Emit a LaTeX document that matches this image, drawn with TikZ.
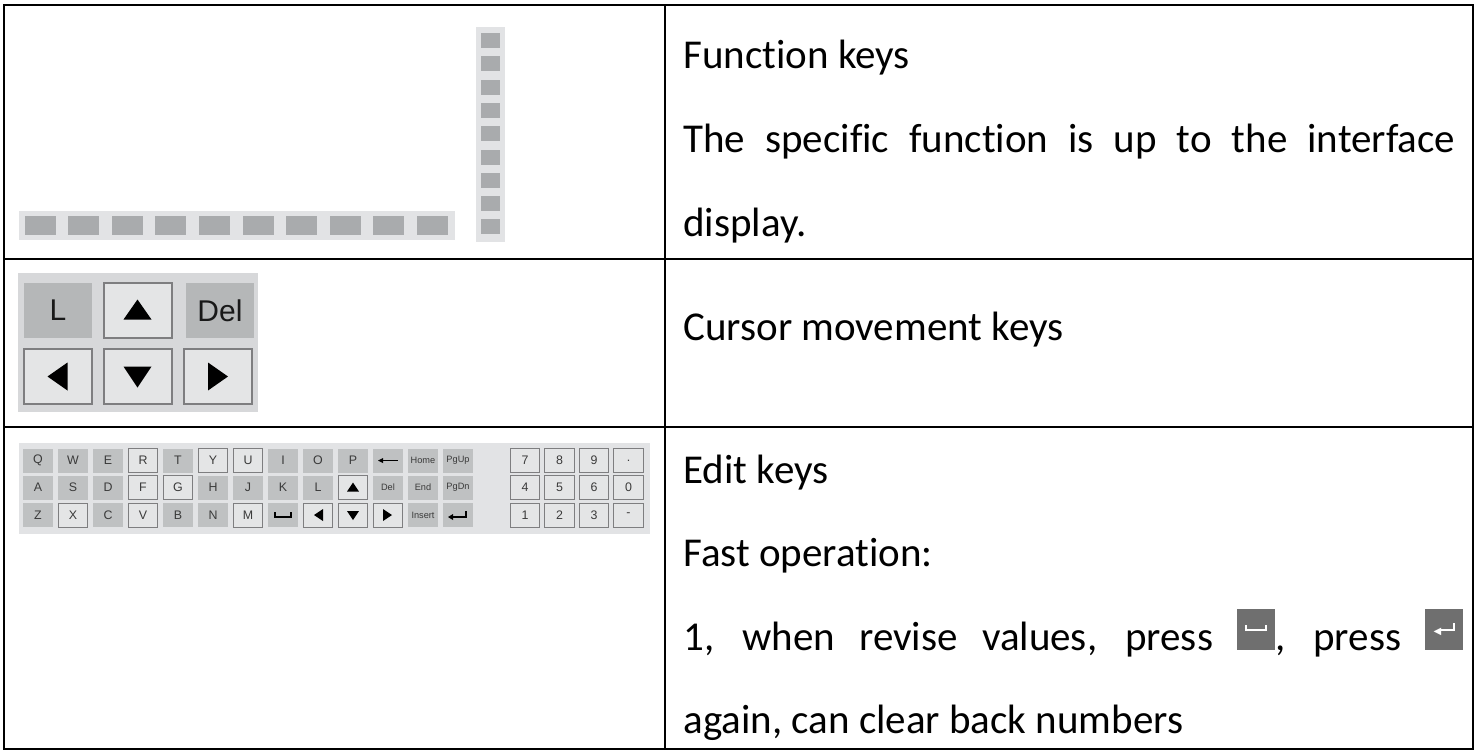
\documentclass[tikz,border=0pt]{standalone}
\usepackage{fontspec}
\setmainfont{Carlito}[Ligatures=NoCommon]
\newfontfamily\keyfont{Liberation Sans}
\newfontfamily\symfont{DejaVu Sans}
\usetikzlibrary{positioning}

\definecolor{panelbg}{HTML}{E2E3E5}
\definecolor{fkeygray}{HTML}{A9ABAD}
\definecolor{keygray}{HTML}{BFC1C2}
\definecolor{keylight}{HTML}{E4E5E6}
\definecolor{keyedge}{HTML}{7E7E80}
\definecolor{keyink}{HTML}{3A3A3A}
\definecolor{icongray}{HTML}{6F6F6F}

\newcommand\iconbox[1]{{\setlength{\fboxsep}{0pt}\colorbox{icongray}{\parbox[b][20.5pt][c]{19pt}{\centering\color{white}#1}}}}
\newcommand\spacesym{\raisebox{1.5pt}{\rule{0.9pt}{3pt}\rule{9pt}{0.9pt}\rule{0.9pt}{3pt}}}
\newcommand\returnsym{\raisebox{1pt}{{\symfont\fontsize{5pt}{5pt}\selectfont ◀}\kern-0.9pt\rule[1.5pt]{7pt}{0.9pt}\rule[1.5pt]{0.9pt}{4pt}}}
\newcommand\kbsmall{\fontsize{4.6pt}{5pt}\selectfont}

\begin{document}
\begin{tikzpicture}[x=0.5pt, y=-0.5pt,
    tableline/.style={line width=1.3pt},
    txt/.style={inner sep=0pt, anchor=base west, font=\fontsize{20.5pt}{24pt}\selectfont},
    fkey/.style={fill=fkeygray, inner sep=0pt, minimum width=15.5pt, minimum height=9.5pt},
    fkeyv/.style={fkey, minimum width=9.5pt, minimum height=7.5pt},
    ckey/.style={inner sep=0pt, minimum width=34pt, minimum height=27.5pt, font=\keyfont\fontsize{15pt}{15pt}\selectfont, text=black!90},
    cgray/.style={ckey, fill=keygray!95!black},
    clight/.style={ckey, fill=keylight, draw=keyedge, line width=1pt},
    kb/.style={inner sep=0pt, minimum width=14.7pt, minimum height=12pt, font=\keyfont\fontsize{6.2pt}{7pt}\selectfont, text=keyink},
    kbgray/.style={kb, fill=keygray},
    kblight/.style={kb, fill=keylight, draw=keyedge, line width=0.5pt}]
\useasboundingbox (0,0) rectangle (1477,751);

\begin{scope}[shift={(0,0)}]
    \fill[panelbg] (19,211) rectangle (455,240);
    \foreach \i in {0,...,9}
        \node[fkey] (fh\i) at (40+43.6*\i, 225.5) {};
    \fill[panelbg] (476,27) rectangle (505,242);
    \foreach \j in {0,...,8}
        \node[fkeyv] (fv\j) at (490.5, 40.5+23.3*\j) {};
\end{scope}

\begin{scope}[shift={(0,0)}]
    \fill[panelbg!95!black] (18,273) rectangle (258,412);
    \node[cgray] (cl) at (58,310.5) {L};
    \node[clight] (cup) at (137.5,310.5) {};
    \node[cgray] (cdel) at (220,310.5) {Del};
    \node[clight] (cleft) at (57.5,376.5) {};
    \node[clight] (cdown) at (137.5,376.5) {};
    \node[clight] (cright) at (218,376.5) {};
    \fill[shift={(cup.center)}] (-14,9) -- (14,9) -- (0,-11) -- cycle;
    \fill[shift={(cdown.center)}] (-14,-10) -- (14,-10) -- (0,11) -- cycle;
    \fill[shift={(cleft.center)}] (-10,0) -- (10,-14) -- (10,14) -- cycle;
    \fill[shift={(cright.center)}] (10,0) -- (-10,-14) -- (-10,14) -- cycle;
\end{scope}

\begin{scope}[shift={(0,0)}]
    \fill[panelbg] (19,443) rectangle (650,534);
    \foreach \lbl/\sty [count=\i from 0] in {Q/kbgray, W/kbgray, E/kbgray, R/kblight, T/kbgray, Y/kblight, U/kblight, I/kbgray, O/kbgray, P/kbgray, {}/kbgray, {\kbsmall Home}/kbgray, {\kbsmall PgUp}/kbgray}
        \node[\sty] (ka\i) at (38+35*\i, 460.5) {\lbl};
    \foreach \lbl/\sty [count=\i from 0] in {A/kbgray, S/kbgray, D/kbgray, F/kblight, G/kblight, H/kbgray, J/kbgray, K/kbgray, L/kbgray, {}/kblight, {\kbsmall Del}/kbgray, {\kbsmall End}/kbgray, {\kbsmall PgDn}/kbgray}
        \node[\sty] (kb\i) at (38+35*\i, 487.5) {\lbl};
    \foreach \lbl/\sty [count=\i from 0] in {Z/kbgray, X/kblight, C/kbgray, V/kblight, B/kbgray, N/kbgray, M/kblight, {}/kbgray, {}/kblight, {}/kblight, {}/kblight, {\kbsmall Insert}/kbgray, {}/kbgray}
        \node[\sty] (kc\i) at (38+35*\i, 515) {\lbl};
    \fill[shift={(ka10.center)}] (-10,0) -- (-5,-2.5) -- (-5,2.5) -- cycle;
    \draw[shift={(ka10.center)}, line width=0.5pt] (-6,0) -- (10,0);
    \fill[shift={(kb9.center)}] (-6,4) -- (6,4) -- (0,-5) -- cycle;
    \draw[shift={(kc7.center)}, line width=1pt] (-8,-3) -- (-8,2) -- (8,2) -- (8,-3);
    \fill[shift={(kc8.center)}] (-4,0) -- (5,-6) -- (5,6) -- cycle;
    \fill[shift={(kc9.center)}] (-6,-4) -- (6,-4) -- (0,5) -- cycle;
    \fill[shift={(kc10.center)}] (4,0) -- (-5,-6) -- (-5,6) -- cycle;
    \fill[shift={(kc12.center)}] (-10,2) -- (-5,-1) -- (-5,5) -- cycle;
    \draw[shift={(kc12.center)}, line width=1pt] (-6,2) -- (8,2) -- (8,-4);
    \foreach \lbl [count=\i from 0] in {7,8,9,.}
        \node[kblight] (na\i) at (525+34.5*\i, 460.5) {\lbl};
    \foreach \lbl [count=\i from 0] in {4,5,6,0}
        \node[kblight] (nb\i) at (525+34.5*\i, 487.5) {\lbl};
    \foreach \lbl [count=\i from 0] in {1,2,3,-}
        \node[kblight] (nc\i) at (525+34.5*\i, 515) {\lbl};
\end{scope}

\node[txt] (fntitle) at (683,68) {Function keys};
\node[txt] (fntext) at (683,152) {\makebox[386pt][s]{The specific function is up to the interface}};
\node[txt] (fntext2) at (683,236) {display.};
\node[txt] (curtitle) at (683,340) {Cursor movement keys};
\node[txt] (edittitle) at (683,483) {Edit keys};
\node[txt] (editfast) at (683,566) {Fast operation:};
\node[txt] (edithint) at (683,650) {\makebox[390pt][s]{1, when revise values, press \iconbox{\spacesym}, press \iconbox{\returnsym}}};
\node[txt] (edithint2) at (683,733) {again, can clear back numbers};

\draw[tableline] (4,5) rectangle (1473,749);
\draw[tableline] (665,5) -- (665,749);
\draw[tableline] (4,259) -- (1473,259);
\draw[tableline] (4,427) -- (1473,427);
\end{tikzpicture}
\end{document}
